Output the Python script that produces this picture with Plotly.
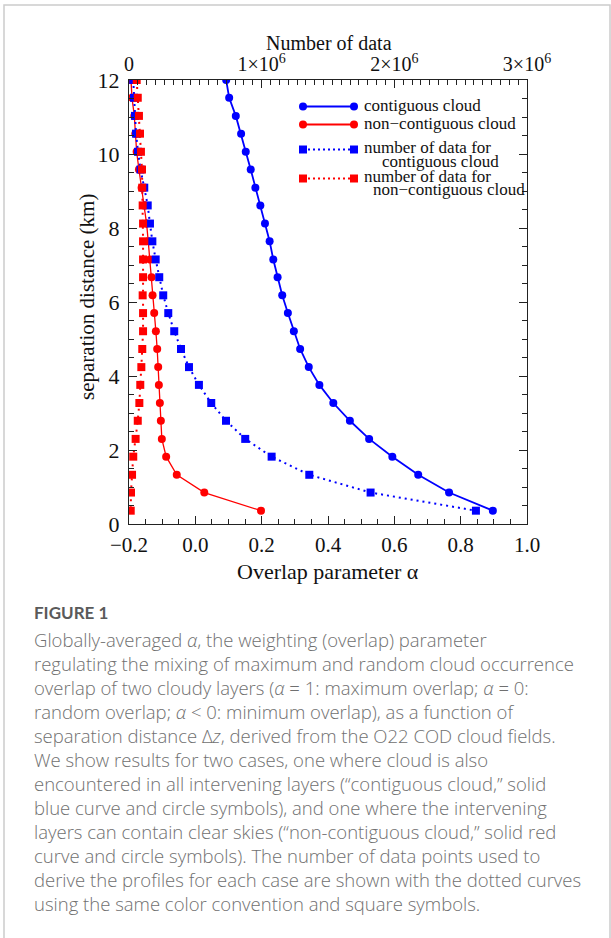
import plotly.graph_objects as go

# ---------------- data ----------------
sep_km = [12.00, 11.52, 11.03, 10.55, 10.06, 9.58, 9.09, 8.61, 8.12, 7.64, 7.15, 6.67,
          6.18, 5.70, 5.21, 4.73, 4.24, 3.76, 3.27, 2.79, 2.30, 1.82, 1.33, 0.85, 0.36]

alpha_contig = [0.093, 0.102, 0.122, 0.138, 0.152, 0.167, 0.181, 0.196, 0.210, 0.224,
                0.235, 0.248, 0.262, 0.279, 0.297, 0.316, 0.342, 0.374, 0.416, 0.466,
                0.524, 0.594, 0.672, 0.765, 0.897]
alpha_noncontig = [-0.194, -0.191, -0.184, -0.181, -0.177, -0.170, -0.162, -0.155, -0.147,
                   -0.142, -0.137, -0.132, -0.129, -0.124, -0.119, -0.115, -0.112, -0.110,
                   -0.107, -0.104, -0.101, -0.088, -0.056, 0.027, 0.198]
n_contig = [32000, 38000, 45000, 53000, 68000, 87000, 115000, 141000, 158000, 176000,
            201000, 228000, 258000, 296000, 341000, 392000, 452000, 527000, 620000,
            731000, 876000, 1075000, 1359000, 1821000, 2615000]
n_noncontig = [58000, 66000, 75000, 83000, 90000, 98000, 100000, 103000, 106000, 106000,
               106000, 106000, 103000, 106000, 106000, 100000, 93000, 85000, 78000, 66000,
               50000, 32000, 23000, 15000, 13000]

alpha_ticks = [-0.2, 0.0, 0.2, 0.4, 0.6, 0.8, 1.0]
count_ticks = [0, 1e6, 2e6, 3e6]
count_ticktext = ["0", "1×10<sup>6</sup>", "2×10<sup>6</sup>", "3×10<sup>6</sup>"]
y_ticks = [0, 2, 4, 6, 8, 10, 12]

legend_labels = ["contiguous cloud", "non\u2212contiguous cloud",
                 "number of data for", "contiguous cloud",
                 "number of data for", "non\u2212contiguous cloud"]

caption_title = "FIGURE 1"
caption_lines = [
    "Globally-averaged <i>α</i>, the weighting (overlap) parameter",
    "regulating the mixing of maximum and random cloud occurrence",
    "overlap of two cloudy layers (<i>α</i> = 1: maximum overlap; <i>α</i> = 0:",
    "random overlap; <i>α</i> &lt; 0: minimum overlap), as a function of",
    "separation distance Δ<i>z</i>, derived from the O22 COD cloud fields.",
    "We show results for two cases, one where cloud is also",
    "encountered in all intervening layers (“contiguous cloud,” solid",
    "blue curve and circle symbols), and one where the intervening",
    "layers can contain clear skies (“non-contiguous cloud,” solid red",
    "curve and circle symbols). The number of data points used to",
    "derive the profiles for each case are shown with the dotted curves",
    "using the same color convention and square symbols.",
]

BLUE = "#0000ff"
RED = "#ff0000"
SERIF = "Liberation Serif, Times New Roman, serif"
SANS = "Open Sans, Lato, sans-serif"

W, H = 611, 938
L, R, T, B = 129, 527, 80, 524


def px(x):
    return (x - L) / (R - L)


def py(y):
    return (B - y) / (B - T)


fig = go.Figure()

fig.add_trace(go.Scatter(x=alpha_contig, y=sep_km, mode="lines+markers",
                         line=dict(color=BLUE, width=1.8),
                         marker=dict(color=BLUE, size=8, symbol="circle"),
                         showlegend=False))
fig.add_trace(go.Scatter(x=alpha_noncontig, y=sep_km, mode="lines+markers",
                         line=dict(color=RED, width=1.3),
                         marker=dict(color=RED, size=8, symbol="circle"),
                         showlegend=False))
fig.add_trace(go.Scatter(x=n_contig, y=sep_km, mode="lines+markers", xaxis="x2",
                         line=dict(color=BLUE, width=2, dash="2px,4px"),
                         marker=dict(color=BLUE, size=8, symbol="square"),
                         showlegend=False))
fig.add_trace(go.Scatter(x=n_noncontig, y=sep_km, mode="lines+markers", xaxis="x2",
                         line=dict(color=RED, width=2, dash="2px,5px"),
                         marker=dict(color=RED, size=8, symbol="square"),
                         showlegend=False))

axis_common = dict(showgrid=False, zeroline=False, showline=True, linecolor="#222",
                   linewidth=1.2, ticks="inside", ticklen=8, tickwidth=1.1,
                   tickcolor="#222")

fig.update_layout(
    width=W, height=H,
    margin=dict(l=L, r=W - R, t=T, b=H - B),
    paper_bgcolor="white", plot_bgcolor="white",
    xaxis=dict(range=[-0.2, 1.0], tickvals=alpha_ticks, tickformat=".1f",
               tickfont=dict(family=SERIF, size=21, color="#111"), ticklabelstandoff=2,
               minor=dict(dtick=0.05, ticks="inside", ticklen=5, tickcolor="#222"),
               **axis_common),
    xaxis2=dict(range=[0, 3e6], overlaying="x", side="top", tickvals=count_ticks,
                ticktext=count_ticktext,
                tickfont=dict(family=SERIF, size=20, color="#111"),
                minor=dict(tickvals=[i * 1e6 / 15 for i in range(46)], ticks="inside",
                           ticklen=5, tickcolor="#222"),
                **axis_common),
    yaxis=dict(range=[0, 12], tickvals=y_ticks, mirror="ticks",
               tickfont=dict(family=SERIF, size=22, color="#111"), ticklabelstandoff=4,
               minor=dict(dtick=0.5, ticks="inside", ticklen=5, tickcolor="#222"),
               **axis_common),
)

ann = []
# axis titles
ann.append(dict(text="Overlap parameter α", x=px(328), y=py(571), xref="paper", yref="paper",
                showarrow=False, font=dict(family=SERIF, size=22, color="#111"),
                xanchor="center", yanchor="middle"))
ann.append(dict(text="Number of data", x=px(329), y=py(43), xref="paper", yref="paper",
                showarrow=False, font=dict(family=SERIF, size=20, color="#111"),
                xanchor="center", yanchor="middle"))
ann.append(dict(text="separation distance (km)", x=px(87), y=py(297), xref="paper",
                yref="paper", showarrow=False, textangle=-90,
                font=dict(family=SERIF, size=21, color="#111"),
                xanchor="center", yanchor="middle"))

# legend (drawn manually)
shapes = []


def leg_line(y, color, dash):
    shapes.append(dict(type="line", xref="paper", yref="paper", x0=px(303), x1=px(354),
                       y0=py(y), y1=py(y), line=dict(color=color, width=1.8 if dash == "solid" else 2,
                                                    dash=dash)))


def leg_circle(x, y, color):
    r = 4
    shapes.append(dict(type="circle", xref="paper", yref="paper", x0=px(x - r), x1=px(x + r),
                       y0=py(y + r), y1=py(y - r), fillcolor=color, line=dict(width=0)))


def leg_square(x, y, color):
    r = 4
    shapes.append(dict(type="rect", xref="paper", yref="paper", x0=px(x - r), x1=px(x + r),
                       y0=py(y + r), y1=py(y - r), fillcolor=color, line=dict(width=0)))


leg_line(106.5, BLUE, "solid")
leg_circle(303, 106.5, BLUE)
leg_circle(354, 106.5, BLUE)
leg_line(124.5, RED, "solid")
leg_circle(303, 124.5, RED)
leg_circle(354, 124.5, RED)
leg_line(149.5, BLUE, "2px,3px")
leg_square(303, 149.5, BLUE)
leg_square(354, 149.5, BLUE)
leg_line(178.5, RED, "2px,3px")
leg_square(303, 178.5, RED)
leg_square(354, 178.5, RED)

leg_pos = [(362, 105), (362, 123.5), (362, 147.5), (380, 161), (362, 176.5), (371, 189)]
for (lx, ly), txt in zip(leg_pos, legend_labels):
    ann.append(dict(text=txt, x=px(lx), y=py(ly), xref="paper", yref="paper",
                    showarrow=False, xanchor="left", yanchor="middle",
                    font=dict(family=SERIF, size=17, color="#111")))

# caption
ann.append(dict(text="<b>" + caption_title + "</b>", x=px(32), y=py(612), xref="paper",
                yref="paper", showarrow=False, xanchor="left", yanchor="middle",
                font=dict(family="Lato, sans-serif", size=17, color="#5a5a5a")))
for i, line in enumerate(caption_lines):
    ann.append(dict(text=line, x=px(32), y=py(639 + 24 * i), xref="paper", yref="paper",
                    showarrow=False, xanchor="left", yanchor="middle",
                    font=dict(family=SANS, size=18.5, color="#707070", weight=300)))

# page frame
shapes.append(dict(type="rect", xref="paper", yref="paper", x0=px(4), x1=px(610),
                   y0=py(945), y1=py(5), line=dict(color="#cccccc", width=1.5),
                   layer="below"))

fig.update_layout(annotations=ann, shapes=shapes)

fig.write_html("out.html")
